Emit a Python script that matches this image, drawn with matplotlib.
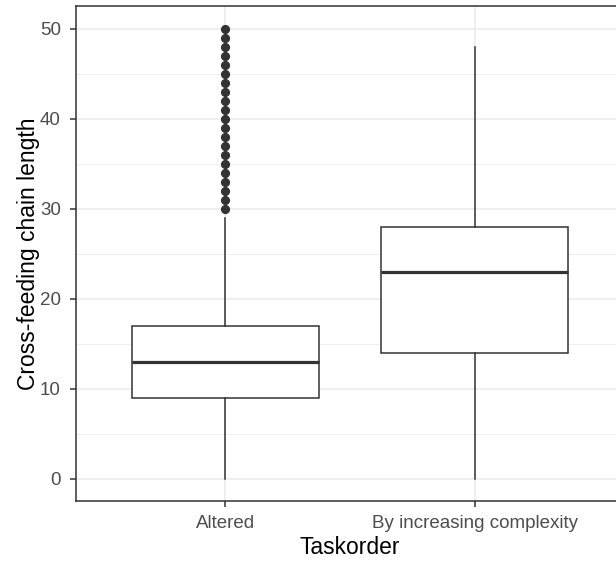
import matplotlib
matplotlib.use("Agg")
import matplotlib.pyplot as plt

# box statistics
categories = ["Altered", "By increasing complexity"]
q1 = [9, 14]
medians = [13, 23]
q3 = [17, 28]
whisker_low = [0, 0]
whisker_high = [29, 48]
outliers_altered = [30, 31, 32, 33, 34, 35, 36, 37, 38, 39, 40,
                    41, 42, 43, 44, 45, 46, 47, 48, 49, 50]
outliers_complexity = []

y_ticks = [0, 10, 20, 30, 40, 50]
y_minor = [5, 15, 25, 35, 45]

plt.rcParams["font.family"] = ["Liberation Sans", "DejaVu Sans"]

fig = plt.figure(figsize=(6.16, 5.63), dpi=100)
# panel runs past the right edge, as in the reference
ax = fig.add_axes([76 / 616, 62 / 563, 548 / 616, 495 / 563])

stats = []
fliers = [outliers_altered, outliers_complexity]
for i, name in enumerate(categories):
    stats.append({
        "label": name, "q1": q1[i], "med": medians[i], "q3": q3[i],
        "whislo": whisker_low[i], "whishi": whisker_high[i], "fliers": fliers[i],
    })

edge = "#333333"
ax.bxp(
    stats, positions=[1, 2], widths=0.75, showcaps=False, patch_artist=True,
    boxprops=dict(facecolor="white", edgecolor=edge, linewidth=1.1),
    whiskerprops=dict(color=edge, linewidth=1.1),
    medianprops=dict(color=edge, linewidth=2.3, solid_capstyle="butt"),
    flierprops=dict(marker="o", markerfacecolor=edge, markeredgecolor=edge,
                    markersize=5.6, linestyle="none"),
    zorder=3,
)

ax.set_xlim(0.4, 2.6)
ax.set_ylim(-2.5, 52.5)
ax.set_yticks(y_ticks)
ax.set_yticks(y_minor, minor=True)
ax.set_xticks([1, 2])
ax.set_xticklabels(categories)

ax.grid(True, which="major", color="#EBEBEB", linewidth=1.1, zorder=0)
ax.grid(True, which="minor", axis="y", color="#EBEBEB", linewidth=0.6, zorder=0)
ax.set_axisbelow(True)

for s in ax.spines.values():
    s.set_color(edge)
    s.set_linewidth(1.1)

ax.tick_params(axis="both", which="major", length=4, width=1.1, color=edge,
               labelsize=13.5, labelcolor="#4D4D4D")
ax.tick_params(axis="x", which="major", pad=6)
ax.tick_params(axis="y", which="major", pad=7)
ax.tick_params(axis="both", which="minor", length=0)

ax.set_xlabel("Taskorder", fontsize=16.5, color="black", labelpad=3)
ax.set_ylabel("Cross-feeding chain length", fontsize=16.5, color="black", labelpad=0)

fig.savefig("out.png", dpi=100)
